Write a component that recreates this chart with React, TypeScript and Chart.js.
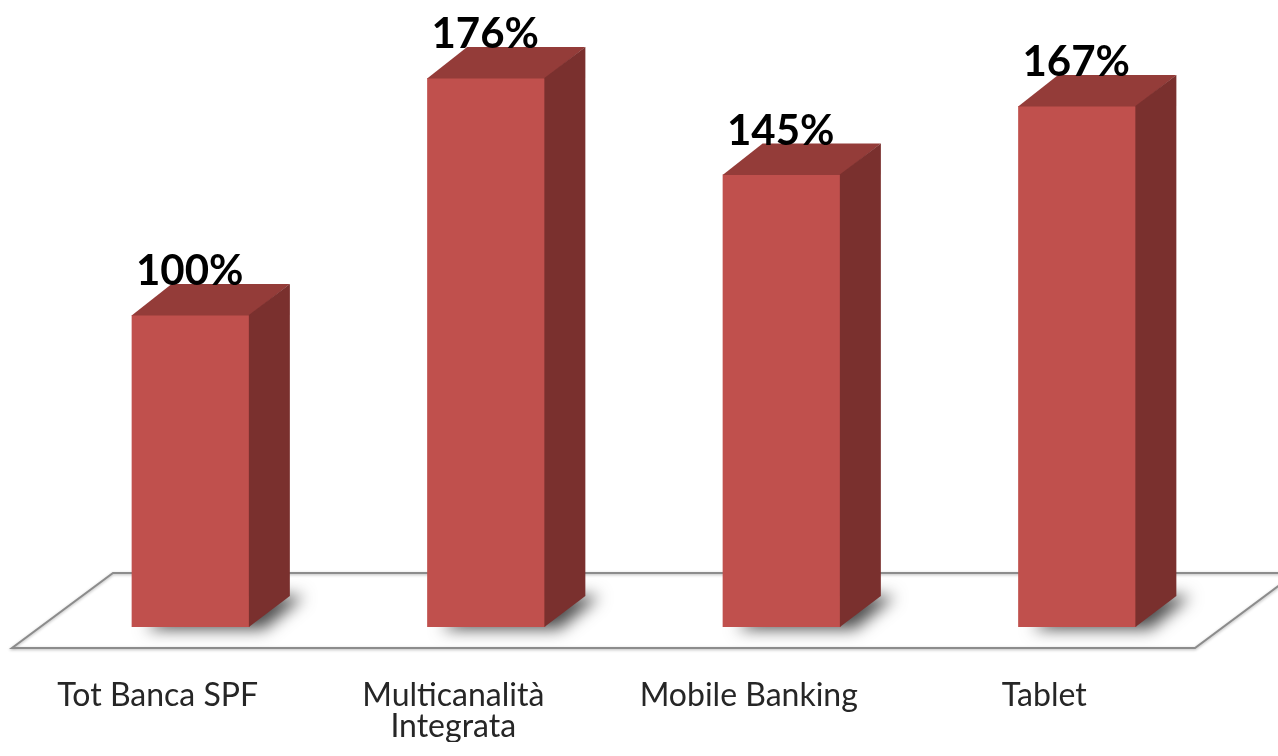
import { useEffect, useRef } from "react";
import { Chart, registerables } from "chart.js";

Chart.register(...registerables);

const categories: (string | string[])[] = [
  "Tot Banca SPF",
  ["Multicanalità", "Integrata"],
  "Mobile Banking",
  "Tablet",
];
const values = [100, 176, 145, 167];
const valueLabels = ["100%", "176%", "145%", "167%"];

const DX = 40;
const DY = 31;

const bar3d = {
  id: "bar3d",
  beforeDatasetsDraw(chart: any) {
    const { ctx, chartArea, scales } = chart;
    const y0 = scales.y.getPixelForValue(0);
    const backY = y0 - 54;
    const frontY = y0 + 21;
    const bl = chartArea.left + 70;
    const fl = bl - 101;
    const fr = chartArea.right - 30;
    const br = fr + 101;
    ctx.save();
    ctx.beginPath();
    ctx.moveTo(bl, backY);
    ctx.lineTo(br, backY);
    ctx.lineTo(fr, frontY);
    ctx.lineTo(fl, frontY);
    ctx.closePath();
    ctx.fillStyle = "#ffffff";
    ctx.fill();
    ctx.shadowColor = "rgba(0,0,0,0.3)";
    ctx.shadowBlur = 3;
    ctx.shadowOffsetY = 1;
    ctx.strokeStyle = "#8c8c8c";
    ctx.lineWidth = 2;
    ctx.stroke();
    ctx.restore();

    const meta = chart.getDatasetMeta(0);
    meta.data.forEach((bar: any) => {
      const { x, width, base } = bar.getProps(["x", "width", "base"], true);
      const l = x - width / 2;
      const r = x + width / 2;
      const off = 5000;
      ctx.save();
      ctx.shadowColor = "rgba(0,0,0,0.7)";
      ctx.shadowBlur = 16;
      ctx.shadowOffsetX = off + 14;
      ctx.shadowOffsetY = 0;
      ctx.fillStyle = "#000";
      ctx.beginPath();
      ctx.moveTo(l - off, base + 2);
      ctx.lineTo(r - off, base + 2);
      ctx.lineTo(r + DX - off, base - DY);
      ctx.lineTo(l + DX - off, base - DY);
      ctx.closePath();
      ctx.fill();
      ctx.restore();
    });
  },
  afterDatasetsDraw(chart: any) {
    const { ctx } = chart;
    const meta = chart.getDatasetMeta(0);
    meta.data.forEach((bar: any, i: number) => {
      const { x, y, width, base } = bar.getProps(["x", "y", "width", "base"], true);
      const l = x - width / 2;
      const r = x + width / 2;
      ctx.save();
      ctx.beginPath();
      ctx.moveTo(l, y + 0.5);
      ctx.lineTo(r, y + 0.5);
      ctx.lineTo(r + DX, y - DY);
      ctx.lineTo(l + DX, y - DY);
      ctx.closePath();
      ctx.fillStyle = "#943c39";
      ctx.fill();
      ctx.beginPath();
      ctx.moveTo(r - 1, y);
      ctx.lineTo(r + DX, y - DY);
      ctx.lineTo(r + DX, base - DY);
      ctx.lineTo(r - 1, base);
      ctx.closePath();
      ctx.fillStyle = "#7a302e";
      ctx.fill();
      ctx.font = "bold 42px Lato";
      ctx.fillStyle = "#000000";
      ctx.textAlign = "center";
      ctx.textBaseline = "alphabetic";
      ctx.fillText(valueLabels[i], x - 1, y - 30);
      ctx.restore();
    });
  },
};

export default function App() {
  const ref = useRef<HTMLCanvasElement>(null);
  useEffect(() => {
    document.body.style.margin = "0";
    const chart = new Chart(ref.current!, {
      type: "bar",
      data: {
        labels: categories,
        datasets: [
          {
            data: values,
            backgroundColor: "#c0504d",
            barPercentage: 0.4,
            categoryPercentage: 1,
          },
        ],
      },
      options: {
        animation: false,
        responsive: true,
        maintainAspectRatio: false,
        layout: { padding: { top: 3, left: 43, right: 53, bottom: 14 } },
        plugins: { legend: { display: false }, tooltip: { enabled: false } },
        scales: {
          x: {
            offset: true,
            grid: { display: false, drawTicks: false },
            border: { display: false },
            afterFit: (scale: any) => {
              scale.height = 115;
            },
            ticks: {
              font: { family: "Lato", size: 32, lineHeight: 31 / 32 },
              color: "#262626",
              padding: 53,
              labelOffset: -33,
              maxRotation: 0,
              autoSkip: false,
            },
          },
          y: { display: false, min: 0, max: 200 },
        },
      },
      plugins: [bar3d],
    });
    return () => chart.destroy();
  }, []);
  return (
    <div style={{ width: 1278, height: 756, position: "relative" }}>
      <canvas ref={ref} />
    </div>
  );
}
